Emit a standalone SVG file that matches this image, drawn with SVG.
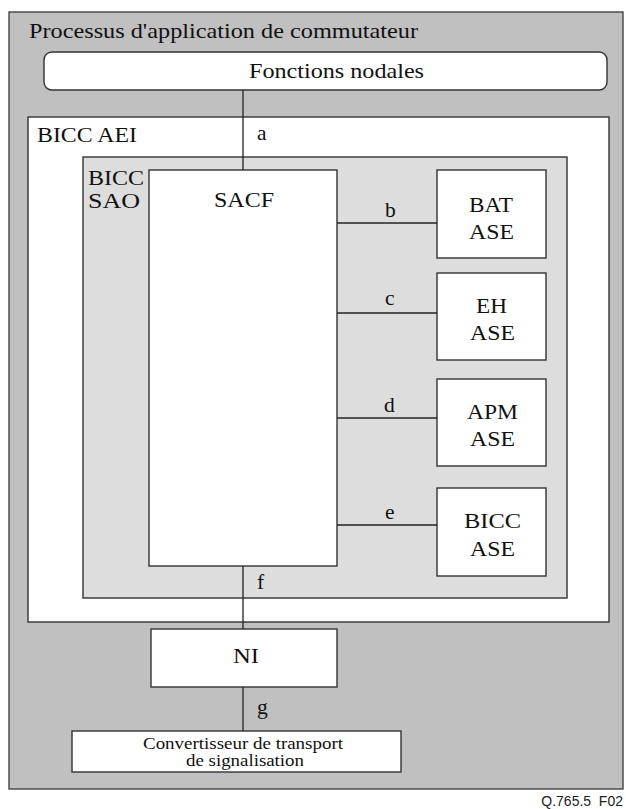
<svg xmlns="http://www.w3.org/2000/svg" width="626" height="809" viewBox="0 0 626 809">
<style>
.box{stroke:#333;stroke-width:1.4;fill:#fff}
.ln{stroke:#222;stroke-width:1.3;fill:none}
</style>
<rect width="626" height="809" fill="#fff"/>
<g font-family="'Liberation Serif', 'Times New Roman', 'DejaVu Serif', serif" font-size="21.5" fill="#111">
<g id="outer">
<rect x="9" y="12" width="614" height="777" fill="#c0c0c0" stroke="#444" stroke-width="1.4"/>
<text x="29" y="38" textLength="389" lengthAdjust="spacingAndGlyphs">Processus d'application de commutateur</text>
</g>
<g id="fonctions">
<rect class="box" x="44" y="52" width="563" height="38" rx="8"/>
<text x="249" y="78" textLength="175" lengthAdjust="spacingAndGlyphs">Fonctions nodales</text>
</g>
<g id="aei">
<rect class="box" x="28" y="117" width="581" height="505"/>
<text x="37" y="142" textLength="100" lengthAdjust="spacingAndGlyphs">BICC AEI</text>
</g>
<g id="sao">
<rect x="83" y="157" width="484" height="441" fill="#dddddd" stroke="#333" stroke-width="1.4"/>
<text x="88" y="185" textLength="56" lengthAdjust="spacingAndGlyphs">BICC</text>
<text x="88" y="208" textLength="52" lengthAdjust="spacingAndGlyphs">SAO</text>
</g>
<g id="sacf">
<rect class="box" x="149" y="170" width="188" height="396"/>
<text x="214" y="207" textLength="60" lengthAdjust="spacingAndGlyphs">SACF</text>
</g>
<g id="bat">
<rect class="box" x="437" y="170" width="109" height="88"/>
<text x="469" y="212" textLength="44" lengthAdjust="spacingAndGlyphs">BAT</text>
<text x="469" y="239" textLength="45" lengthAdjust="spacingAndGlyphs">ASE</text>
</g>
<g id="eh">
<rect class="box" x="437" y="273" width="109" height="87"/>
<text x="476" y="313" textLength="31" lengthAdjust="spacingAndGlyphs">EH</text>
<text x="470" y="340" textLength="45" lengthAdjust="spacingAndGlyphs">ASE</text>
</g>
<g id="apm">
<rect class="box" x="437" y="379" width="109" height="87"/>
<text x="467" y="419" textLength="51" lengthAdjust="spacingAndGlyphs">APM</text>
<text x="470" y="446" textLength="45" lengthAdjust="spacingAndGlyphs">ASE</text>
</g>
<g id="biccase">
<rect class="box" x="437" y="488" width="109" height="88"/>
<text x="464" y="528" textLength="57" lengthAdjust="spacingAndGlyphs">BICC</text>
<text x="470" y="556" textLength="45" lengthAdjust="spacingAndGlyphs">ASE</text>
</g>
<g id="ni">
<rect class="box" x="151" y="629" width="186" height="58"/>
<text x="233" y="663" textLength="26" lengthAdjust="spacingAndGlyphs">NI</text>
</g>
<g id="convertisseur" font-size="16">
<rect class="box" x="72" y="731" width="329" height="41"/>
<text x="143" y="749" textLength="200" lengthAdjust="spacingAndGlyphs">Convertisseur de transport</text>
<text x="186" y="766" textLength="118" lengthAdjust="spacingAndGlyphs">de signalisation</text>
</g>
<g id="connectors">
<line class="ln" x1="243" y1="90" x2="243" y2="170"/>
<line class="ln" x1="337" y1="223" x2="437" y2="223"/>
<line class="ln" x1="337" y1="313" x2="437" y2="313"/>
<line class="ln" x1="337" y1="418" x2="437" y2="418"/>
<line class="ln" x1="337" y1="525" x2="437" y2="525"/>
<line class="ln" x1="243" y1="566" x2="243" y2="629"/>
<line class="ln" x1="243" y1="687" x2="243" y2="731"/>
<text x="257" y="140">a</text>
<text x="385" y="217">b</text>
<text x="385" y="305">c</text>
<text x="384" y="412">d</text>
<text x="385" y="519">e</text>
<text x="257" y="589">f</text>
<text x="257" y="714">g</text>
</g>
</g>
<text x="623" y="806" text-anchor="end" font-family="'Liberation Sans', Arial, sans-serif" font-size="14" fill="#222" xml:space="preserve">Q.765.5  F02</text>
</svg>
